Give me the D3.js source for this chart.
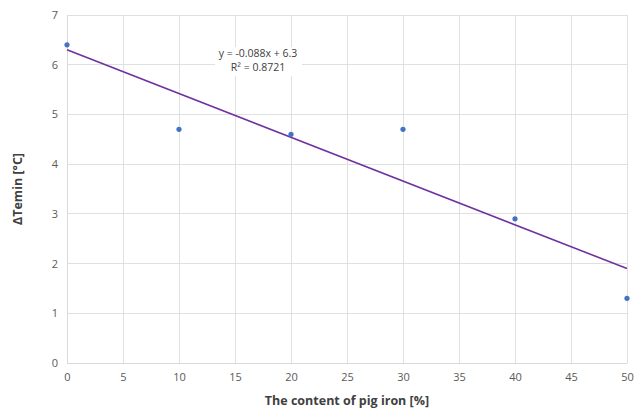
<!DOCTYPE html>
<html><head><meta charset="utf-8">
<script src="https://cdn.jsdelivr.net/npm/d3@7"></script>
<style>body{margin:0;background:#fff;} text{font-family:"Open Sans","Noto Sans",sans-serif;}</style>
</head><body>
<svg id="c" width="634" height="409"></svg>
<script>
const xValues = [0, 10, 20, 30, 40, 50];
const yValues = [6.4, 4.7, 4.6, 4.7, 2.9, 1.3];
const xTicks = [0, 5, 10, 15, 20, 25, 30, 35, 40, 45, 50];
const yTicks = [0, 1, 2, 3, 4, 5, 6, 7];
const trendSlope = -0.088, trendIntercept = 6.3;
const eqLabel = ["y = -0.088x + 6.3", "R² = 0.8721"];
const xTitle = "The content of pig iron [%]";
const yTitle = "ΔTemin [°C]";

const svg = d3.select("#c");
const x = d3.scaleLinear().domain([0, 50]).range([67, 627]);
const y = d3.scaleLinear().domain([0, 7]).range([363, 15]);

// gridlines
svg.append("g").selectAll("line.v").data(xTicks).join("line")
  .attr("x1", d => x(d)).attr("x2", d => x(d)).attr("y1", y(7)).attr("y2", y(0))
  .attr("stroke", "#e0e0e0").attr("stroke-width", 1).attr("shape-rendering","crispEdges");
svg.append("g").selectAll("line.h").data(yTicks).join("line")
  .attr("x1", x(0)).attr("x2", x(50)).attr("y1", d => y(d)).attr("y2", d => y(d))
  .attr("stroke", "#e0e0e0").attr("stroke-width", 1).attr("shape-rendering","crispEdges");

// axes
const xAxis = svg.append("g").attr("transform", `translate(0,${y(0)})`)
  .call(d3.axisBottom(x).tickValues(xTicks).tickFormat(d3.format("d")).tickSize(0).tickPadding(10));
xAxis.select(".domain").attr("stroke", "#d9d9d9");
xAxis.selectAll("text").attr("font-size", 11).attr("fill", "#595959");
const yAxis = svg.append("g").attr("transform", `translate(${x(0)},0)`)
  .call(d3.axisLeft(y).tickValues(yTicks).tickFormat(d3.format("d")).tickSize(0).tickPadding(9));
yAxis.select(".domain").attr("stroke", "#d9d9d9");
yAxis.selectAll("text").attr("font-size", 11).attr("fill", "#595959");

// trendline
svg.append("line")
  .attr("x1", x(0)).attr("y1", y(trendIntercept))
  .attr("x2", x(50)).attr("y2", y(trendIntercept + trendSlope * 50))
  .attr("stroke", "#7030a0").attr("stroke-width", 1.6);

// points
svg.append("g").selectAll("circle").data(xValues).join("circle")
  .attr("cx", (d) => x(d)).attr("cy", (d, i) => y(yValues[i])).attr("r", 2.6)
  .attr("fill", "#4472c4");

// equation label
svg.append("rect").attr("x", 215).attr("y", 47).attr("width", 87).attr("height", 29).attr("fill", "#fff");
svg.append("g").selectAll("text").data(eqLabel).join("text")
  .attr("x", 258).attr("y", (d, i) => 57 + i * 14)
  .attr("text-anchor", "middle").attr("font-size", 10.5).attr("fill", "#404040").text(d => d);

// titles
svg.append("text").attr("x", 347).attr("y", 405).attr("text-anchor", "middle")
  .attr("font-size", 12.5).attr("font-weight", "bold").attr("fill", "#404040").text(xTitle);
svg.append("text").attr("transform", `translate(22,189) rotate(-90)`).attr("text-anchor", "middle")
  .attr("font-size", 12.5).attr("font-weight", "bold").attr("fill", "#404040").text(yTitle);
</script>
</body></html>
